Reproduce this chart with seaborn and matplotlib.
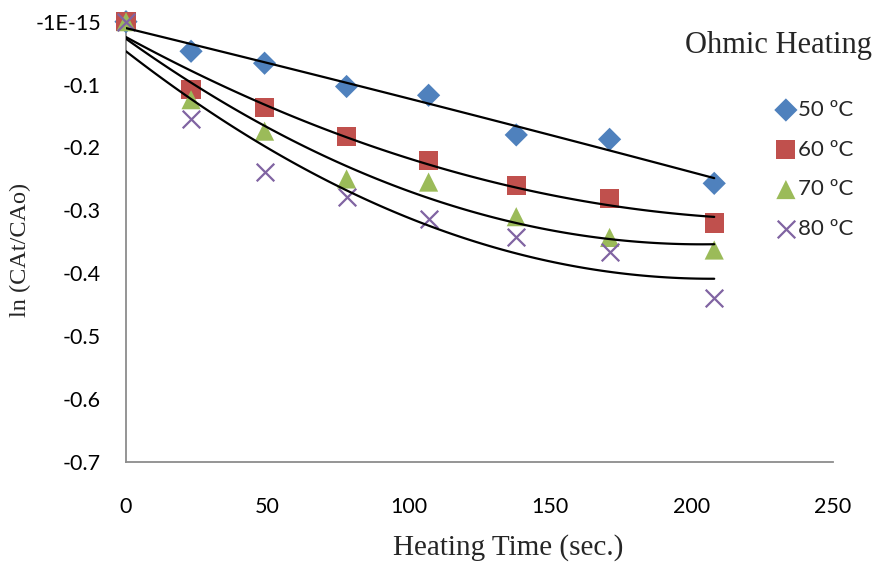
import numpy as np
import pandas as pd
import matplotlib
matplotlib.use("Agg")
import matplotlib.pyplot as plt
import seaborn as sns

# ---- data ----
time_s = [0, 23, 49, 78, 107, 138, 171, 208]
y_50 = [0, -0.047, -0.066, -0.103, -0.117, -0.180, -0.187, -0.257]
y_60 = [0, -0.108, -0.137, -0.183, -0.221, -0.261, -0.281, -0.320]
y_70 = [0, -0.124, -0.174, -0.250, -0.255, -0.310, -0.343, -0.363]
y_80 = [0, -0.155, -0.239, -0.279, -0.313, -0.343, -0.366, -0.440]
series_labels = ["50 ºC", "60 ºC", "70 ºC", "80 ºC"]
x_ticks = [0, 50, 100, 150, 200, 250]
y_ticks = [-0.7, -0.6, -0.5, -0.4, -0.3, -0.2, -0.1, 0.0]
y_tick_labels = ["-0.7", "-0.6", "-0.5", "-0.4", "-0.3", "-0.2", "-0.1", "-1E-15"]
title_text = "Ohmic Heating"
x_label = "Heating Time (sec.)"
y_label = "ln (CAt/CAo)"

sns.set_theme(style="white")
plt.rcParams["font.family"] = ["Lato", "DejaVu Sans"]

colors = ["#4F81BD", "#C0504D", "#9BBB59", "#8064A2"]
markers = ["D", "s", "^", "x"]
sizes = [140, 190, 190, 160]

df = pd.DataFrame({
    "t": time_s * 4,
    "y": y_50 + y_60 + y_70 + y_80,
    "series": sum([[lab] * len(time_s) for lab in series_labels], []),
})

fig = plt.figure(figsize=(8.78, 5.65), dpi=100)
ax = fig.add_axes([126 / 878, 1 - 462 / 565, (833 - 126) / 878, (462 - 21.7) / 565])

handles = []
for lab, col, mk, sz in zip(series_labels, colors, markers, sizes):
    sub = df[df["series"] == lab]
    kw = dict(edgecolor="none") if mk != "x" else dict(linewidth=1.6)
    sns.scatterplot(data=sub, x="t", y="y", marker=mk, color=col, s=sz,
                    ax=ax, clip_on=False, zorder=3, legend=False, **kw)
    handles.append(ax.collections[-1])
    sns.regplot(data=sub, x="t", y="y", order=2, scatter=False, ci=None,
                truncate=True, ax=ax, color="black",
                line_kws=dict(linewidth=1.6, zorder=4))

ax.set_xlim(0, 250)
ax.set_ylim(-0.7, 0)
ax.set_xticks(x_ticks)
ax.set_xticklabels([str(v) for v in x_ticks])
ax.set_yticks(y_ticks)
ax.set_yticklabels(y_tick_labels)
ax.tick_params(axis="both", length=0, labelsize=15.5, colors="#000000")
ax.tick_params(axis="x", pad=25)
ax.tick_params(axis="y", pad=18)

sns.despine(ax=ax)
for sp in ["left", "bottom"]:
    ax.spines[sp].set_color("#8c8c8c")
    ax.spines[sp].set_linewidth(1.3)

ax.set_xlabel(x_label, fontsize=21, family="Liberation Serif")
ax.xaxis.set_label_coords(0.540, -0.163)
ax.set_ylabel(y_label, fontsize=17.5, family="Liberation Serif")
ax.yaxis.set_label_coords(-0.135, 0.481)

fig.text(779 / 878, 1 - 46 / 565, title_text, fontsize=22,
         family="Liberation Serif", ha="center", va="center")

leg = ax.legend(handles, series_labels, loc="center left",
                bbox_to_anchor=(777 / 878, 1 - 169.5 / 565),
                bbox_transform=fig.transFigure, frameon=False,
                fontsize=16, handlelength=0.8, handletextpad=0.15,
                labelspacing=0.89, borderpad=0, borderaxespad=0)

fig.savefig("out.png", dpi=100)
